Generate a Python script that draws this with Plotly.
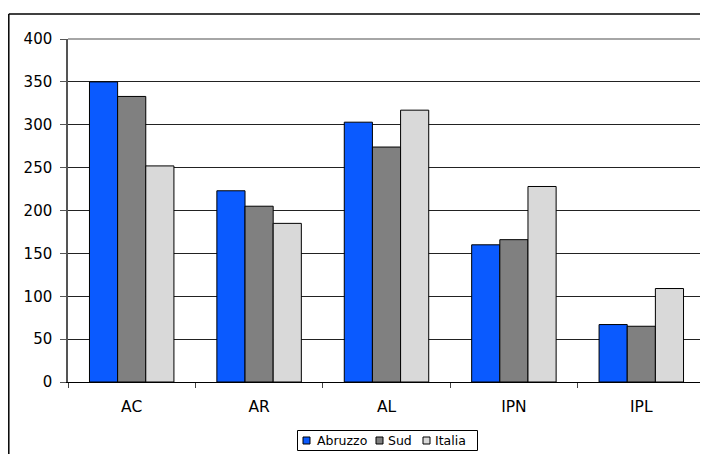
import plotly.graph_objects as go

categories = ["AC", "AR", "AL", "IPN", "IPL"]
abruzzo = [350, 223, 303, 160, 67]
sud = [333, 205, 274, 166, 65]
italia = [252, 185, 317, 228, 109]
y_ticks = [0, 50, 100, 150, 200, 250, 300, 350, 400]
series_names = ["Abruzzo", "Sud", "Italia"]
series_colors = ["#0A5AFF", "#808080", "#D9D9D9"]
series_values = [abruzzo, sud, italia]

# page has an 8px body margin: the figure starts at (8, 8) in the window
OFF = 8
W, H = 700, 446
L, R, T, B = 60, 3, 31, 72
PW, PH = W - L - R, H - T - B


def px(x):
    """window pixel x -> paper coordinate"""
    return (x - OFF - L) / PW


def py(y):
    """window pixel y -> paper coordinate"""
    return (H - B - (y - OFF)) / PH


fig = go.Figure()
for name, vals, col in zip(series_names, series_values, series_colors):
    fig.add_trace(go.Bar(
        x=categories, y=vals, name=name, showlegend=False,
        marker=dict(color=col, line=dict(color="#000000", width=1)),
    ))

font_family = "DejaVu Sans, Arial, sans-serif"

shapes = [
    # plot area border (top and right)
    dict(type="line", xref="paper", yref="paper", x0=0, x1=1, y0=1, y1=1,
         line=dict(color="#888", width=1.5)),
    dict(type="line", xref="paper", yref="paper", x0=1, x1=1, y0=0, y1=1,
         line=dict(color="#999", width=1.5)),
    # outer chart border (top and left)
    dict(type="line", xref="paper", yref="paper", x0=px(8.8), x1=px(712),
         y0=py(14), y1=py(14), line=dict(color="#000", width=1.5)),
    dict(type="line", xref="paper", yref="paper", x0=px(8.8), x1=px(8.8),
         y0=py(14), y1=py(460), line=dict(color="#000", width=1.5)),
    # legend box
    dict(type="rect", xref="paper", yref="paper", x0=px(297.5), x1=px(477.5),
         y0=py(450.5), y1=py(430.5), line=dict(color="#000", width=1),
         fillcolor="white"),
]
annotations = []
legend_sq = [303, 376, 423]
legend_txt = [315, 386, 433]
for name, col, sx, tx in zip(series_names, series_colors, legend_sq, legend_txt):
    shapes.append(dict(type="rect", xref="paper", yref="paper",
                       x0=px(sx), x1=px(sx + 7), y0=py(444), y1=py(437),
                       line=dict(color="#000", width=1), fillcolor=col))
    annotations.append(dict(text=name, xref="paper", yref="paper",
                            x=px(tx), y=py(440.5), xanchor="left",
                            yanchor="middle", showarrow=False,
                            font=dict(size=12.5, family=font_family, color="#000")))

fig.update_layout(
    width=W, height=H,
    margin=dict(l=L, r=R, t=T, b=B),
    paper_bgcolor="white", plot_bgcolor="white",
    barmode="group", bargap=0.337, bargroupgap=0,
    font=dict(family=font_family, size=15, color="#000"),
    showlegend=False,
    xaxis=dict(
        showline=True, linecolor="#000", linewidth=1,
        ticks="outside", tickson="boundaries", ticklen=5, tickcolor="#444",
        ticklabelstandoff=10, showgrid=False, tickfont=dict(size=15.5),
        automargin=False,
    ),
    yaxis=dict(
        range=[0, 400], tickvals=y_ticks,
        showline=True, linecolor="#555", linewidth=1.5,
        ticks="outside", ticklen=6, tickcolor="#555",
        showgrid=True, gridcolor="#222", gridwidth=1,
        ticklabelstandoff=5, zeroline=False, tickfont=dict(size=15),
        automargin=False,
    ),
    shapes=shapes,
    annotations=annotations,
)

fig.write_html("out.html")
